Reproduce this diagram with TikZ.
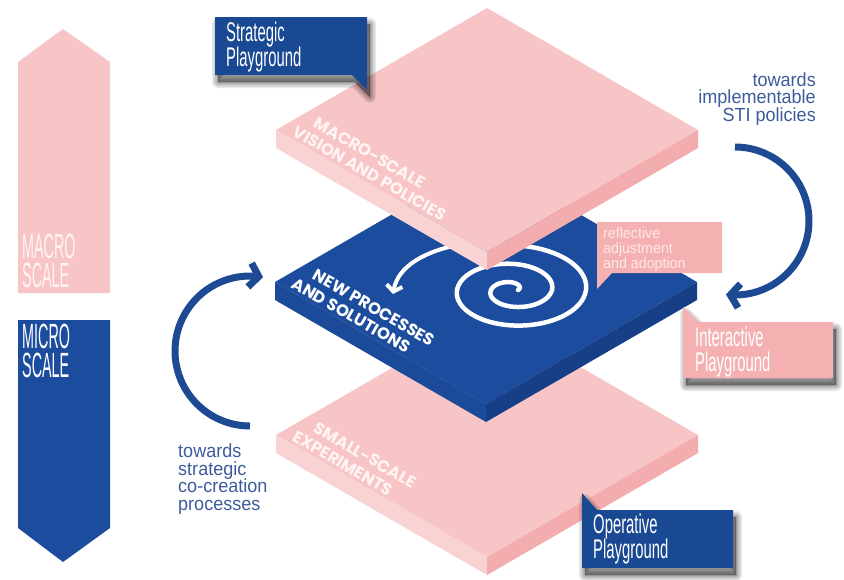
\documentclass[tikz,border=0pt]{standalone}
\usepackage{fontspec}
\setmainfont{Liberation Sans}
\newfontfamily\condfont[FakeStretch=0.55]{Liberation Sans}
\newfontfamily\macrofont[FakeStretch=0.41]{Liberation Sans}
\newfontfamily\thinfont[FakeStretch=0.95]{Liberation Sans}
\newfontfamily\slabfont{Poppins}
\usetikzlibrary{arrows.meta}
\AtBeginDocument{\lineskiplimit=-30pt\relax}
\definecolor{pinkTop}{HTML}{F8C5C6}
\definecolor{pinkLeft}{HTML}{F9D3D3}
\definecolor{pinkRight}{HTML}{F4ADAE}
\definecolor{pinkBox}{HTML}{F5B1B1}
\definecolor{pinkText}{HTML}{FDE8E8}
\definecolor{slabText}{HTML}{FFF3F3}
\definecolor{blueTop}{HTML}{1C4C9E}
\definecolor{blueLeft}{HTML}{1B4A98}
\definecolor{blueRight}{HTML}{163F87}
\definecolor{blueBox}{HTML}{1A4993}
\definecolor{blueArrow}{HTML}{1D4A92}
\definecolor{labelBlue}{HTML}{3E5C9C}
\newcommand\drawslab[5]{%
  \fill[#3] ({#1-211},{#2}) -- ({#1},{#2-122}) -- ({#1+211},{#2}) -- ({#1},{#2+122}) -- cycle;
  \fill[#4] ({#1-211},{#2}) -- ({#1},{#2+122}) -- ({#1},{#2+140}) -- ({#1-211},{#2+18}) -- cycle;
  \fill[#5] ({#1},{#2+122}) -- ({#1+211},{#2}) -- ({#1+211},{#2+18}) -- ({#1},{#2+140}) -- cycle;}
\newcommand\callshadow[1]{%
  \foreach \w in {12,9,6,3,1}{\filldraw[black, opacity=0.09, line width=\w pt, line join=round, shift={(3,7)}] #1;}}
\tikzset{
  slabtxt/.style={font=\slabfont\bfseries\fontsize{16.5}{19}\selectfont, inner sep=0pt, anchor=base west, rotate=-29.8},
  lbl/.style={font=\thinfont\fontsize{19}{17.5}\selectfont, text=labelBlue, inner sep=0pt},
  calltxt/.style={font=\condfont\fontsize{27}{25}\selectfont, text=white, inner sep=0pt, align=left, anchor=base west},
  scaletxt/.style={font=\macrofont\fontsize{35}{29}\selectfont, inner sep=0pt, align=left, anchor=base west},
  bigarrow/.style={draw=blueArrow, line width=7pt, -{Straight Barb[length=9pt, width=24pt]}},
  whitearrow/.style={draw=white, line width=4pt, -{Straight Barb[length=6pt, width=16pt]}}
}
\begin{document}
\begin{tikzpicture}[x=1pt, y=-1pt]
\useasboundingbox[fill=white] (0,0) rectangle (844,579);

% scale arrows
\fill[pinkTop] (18,293) -- (18,62) -- (63,29) -- (110,62) -- (110,293) -- cycle;
\fill[blueTop] (18,320) -- (110,320) -- (110,528) -- (63,562) -- (18,528) -- cycle;
\node[scaletxt, text=slabText] (macro) at (22,287) {MACRO\\SCALE};
\node[scaletxt, text=white] (micro) at (22,377) {MICRO\\SCALE};

% bottom slab
\drawslab{487}{435}{pinkTop}{pinkLeft}{pinkRight}
\node[slabtxt, text=slabText] (sm1) at (312.4,431.7) {SMALL-SCALE};
\node[slabtxt, text=slabText] (sm2) at (291.4,440.4) {EXPERIMENTS};

% middle slab
\drawslab{486}{282}{blueTop}{blueLeft}{blueRight}
\node[slabtxt, text=white] (np1) at (311.4,278.7) {NEW PROCESSES};
\node[slabtxt, text=white] (np2) at (290.4,287.4) {AND SOLUTIONS};
\draw[white, line width=4.5pt, line cap=round] plot[smooth, domain=0:810, samples=120]
  ({513+(5+17*\x/180)*cos(\x)},{290-0.55*(5+17*\x/180)*sin(\x)});
\coordinate (wa1) at (462,244);
\coordinate (wa2) at (393,294);
\draw[whitearrow] (wa1) .. controls (425,251) and (398,266) .. (wa2);

% top slab
\drawslab{487}{130}{pinkTop}{pinkLeft}{pinkRight}
\node[slabtxt, text=slabText] (mv1) at (312.4,126.7) {MACRO-SCALE};
\node[slabtxt, text=slabText] (mv2) at (291.4,135.4) {VISION AND POLICIES};

% reflective box
\fill[pinkBox] (597,222) -- (722,222) -- (722,273) -- (612,273) -- (597,289) -- cycle;
\node[font=\thinfont\fontsize{15}{15}\selectfont, text=pinkText, inner sep=0pt, align=left, anchor=base west] (refl) at (603,268) {reflective\\adjustment\\and adoption};

% callouts
\callshadow{(215,17) -- (367,17) -- (367,90) -- (352,75) -- (215,75) -- cycle}
\fill[blueBox] (215,17) -- (367,17) -- (367,90) -- (352,75) -- (215,75) -- cycle;
\node[calltxt] (strat) at (226,66) {Strategic\\Playground};

\callshadow{(683,307) -- (698,322) -- (833,322) -- (833,378) -- (683,378) -- cycle}
\fill[pinkBox] (683,307) -- (698,322) -- (833,322) -- (833,378) -- (683,378) -- cycle;
\node[calltxt] (inter) at (695,371) {Interactive\\Playground};

\callshadow{(582,493) -- (597,510) -- (733,510) -- (733,568) -- (582,568) -- cycle}
\fill[blueBox] (582,493) -- (597,510) -- (733,510) -- (733,568) -- (582,568) -- cycle;
\node[calltxt] (oper) at (593,558) {Operative\\Playground};

% big arrows
\draw[bigarrow] plot[smooth, domain=90:-97, samples=60] ({735+74*cos(\x)},{221-74*sin(\x)});
\draw[bigarrow] plot[smooth, domain=270:80, samples=60] ({250+75*cos(\x)},{351-75*sin(\x)});

% labels
\node[lbl, align=right, anchor=base east] (impl) at (816,121) {towards\\implementable\\STI policies};
\node[lbl, align=left, anchor=base west] (cocr) at (178,510) {towards\\strategic\\co-creation\\processes};
\end{tikzpicture}
\end{document}
